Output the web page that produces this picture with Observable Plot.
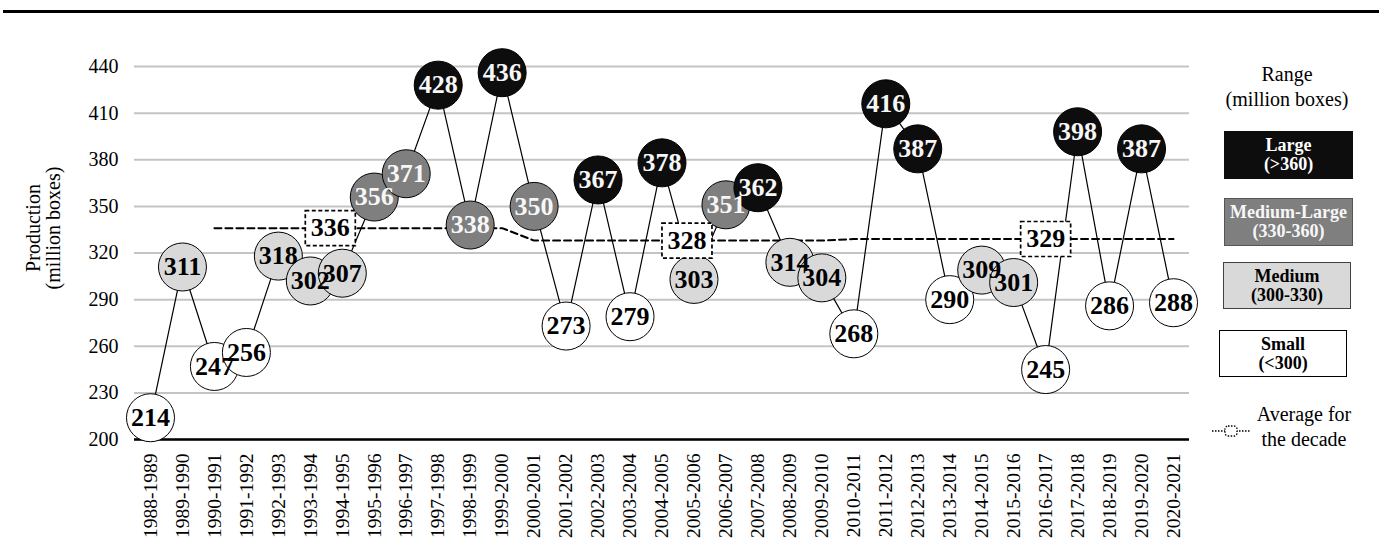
<!DOCTYPE html>
<html>
<head>
<meta charset="utf-8">
<script src="https://cdn.jsdelivr.net/npm/d3@7"></script>
<script src="https://cdn.jsdelivr.net/npm/@observablehq/plot@0.6"></script>
<style>
  html, body { margin: 0; padding: 0; background: #fff; }
  body { font-family: "Liberation Serif", "Times New Roman", serif; }
  #wrap { position: relative; width: 1379px; height: 543px; overflow: hidden; }
  #chart { position: absolute; left: 0; top: 0; }
  #topline { position: absolute; left: 3px; top: 10px; width: 1376px; height: 3px; background: #000; }
  .lg { position: absolute; text-align: center; font-family: "Liberation Serif", "Times New Roman", serif; }
  .box { position: absolute; box-sizing: border-box; display: flex; flex-direction: column; justify-content: center; align-items: center; font-weight: bold; font-size: 18px; line-height: 19px; }
</style>
</head>
<body>
<div id="wrap">
  <div id="chart"></div>
  <div id="topline"></div>
</div>
<script>
// ---- data ----
const categories = ["1988-1989","1989-1990","1990-1991","1991-1992","1992-1993","1993-1994","1994-1995","1995-1996","1996-1997","1997-1998","1998-1999","1999-2000","2000-2001","2001-2002","2002-2003","2003-2004","2004-2005","2005-2006","2006-2007","2007-2008","2008-2009","2009-2010","2010-2011","2011-2012","2012-2013","2013-2014","2014-2015","2015-2016","2016-2017","2017-2018","2018-2019","2019-2020","2020-2021"];
const production = [214,311,247,256,318,302,307,356,371,428,338,436,350,273,367,279,378,303,351,362,314,304,268,416,387,290,309,301,245,398,286,387,288];
const rangeClass = ["Small","Medium","Small","Small","Medium","Medium","Medium","Medium-Large","Medium-Large","Large","Medium-Large","Large","Medium-Large","Small","Large","Small","Large","Medium","Medium-Large","Large","Medium","Medium","Small","Large","Large","Small","Medium","Medium","Small","Large","Small","Large","Small"];
const avgCategories = ["1990-1991","1991-1992","1992-1993","1993-1994","1994-1995","1995-1996","1996-1997","1997-1998","1998-1999","1999-2000","2000-2001","2001-2002","2002-2003","2003-2004","2004-2005","2005-2006","2006-2007","2007-2008","2008-2009","2009-2010","2010-2011","2011-2012","2012-2013","2013-2014","2014-2015","2015-2016","2016-2017","2017-2018","2018-2019","2019-2020","2020-2021"];
const decadeAverage = [336,336,336,336,336,336,336,336,336,336,328,328,328,328,328,328,328,328,328,328,329,329,329,329,329,329,329,329,329,329,329];
const avgLabelCats = ["1994-1995","2005-2006","2016-2017"];
const avgLabelValues = [336,328,329];
const rangeNames = ["Large","Medium-Large","Medium","Small"];
const rangeLabels = ["(>360)","(330-360)","(300-330)","(<300)"];
const yTicks = [200,230,260,290,320,350,380,410,440];

// ---- styles ----
const rangeFills = ["#0d0d0d","#7f7f7f","#d9d9d9","#ffffff"];
const avgLabelShift = [-12, -7, 0];

const rows = categories.map((c, i) => ({cat: c, value: production[i], range: rangeClass[i]}));
const avgRows = avgCategories.map((c, i) => ({cat: c, value: decadeAverage[i]}));
const darkRows = rows.filter(d => d.range === "Large" || d.range === "Medium-Large");
const lightRows = rows.filter(d => d.range === "Medium" || d.range === "Small");

const boxSymbol = { draw(context) { context.rect(-25, -17.5, 50, 35); } };
const serif = "'Liberation Serif', 'Times New Roman', serif";

const boxMarks = avgLabelCats.map((c, i) =>
  Plot.dot([{cat: c, value: avgLabelValues[i]}], {x: "cat", y: "value", symbol: boxSymbol, r: 5, fill: "white", stroke: "black", strokeWidth: 1.7, strokeDasharray: "4,2.5", dx: avgLabelShift[i]})
);
const boxTextMarks = avgLabelCats.map((c, i) =>
  Plot.text([{cat: c, value: avgLabelValues[i]}], {x: "cat", y: "value", text: d => String(d.value), fontSize: 26, fontWeight: "bold", fontFamily: serif, fill: "black", dx: avgLabelShift[i]})
);

const chart = Plot.plot({
  width: 1379,
  height: 543,
  marginLeft: 134,
  marginRight: 190,
  marginTop: 66,
  marginBottom: 104,
  x: {type: "point", domain: categories, padding: 0.5},
  y: {domain: [200, 440]},
  color: {domain: rangeNames, range: rangeFills},
  style: {fontFamily: serif, fontSize: "20px", color: "black", background: "transparent"},
  marks: [
    Plot.gridY(yTicks, {stroke: "#c4c4c4", strokeOpacity: 1, strokeWidth: 2}),
    Plot.ruleY([200], {stroke: "black", strokeWidth: 2.5}),
    Plot.axisY(yTicks, {tickSize: 0, tickPadding: 16, fontSize: 20, fontFamily: serif, label: null}),
    Plot.axisX({tickRotate: -90, tickSize: 0, tickPadding: 14, fontSize: 19.5, fontFamily: serif, label: null}),
    Plot.text(["Production\n(million boxes)"], {frameAnchor: "left", dx: -91, dy: -25, rotate: -90, textAnchor: "middle", fontSize: 20, fontFamily: serif, lineHeight: 1}),
    Plot.line(rows, {x: "cat", y: "value", stroke: "black", strokeWidth: 1.2}),
    Plot.line(avgRows, {x: "cat", y: "value", stroke: "black", strokeWidth: 2, strokeDasharray: "7,4"}),
    Plot.dot(rows, {x: "cat", y: "value", r: 24, fill: "range", stroke: "black", strokeWidth: 1}),
    ...boxMarks,
    Plot.text(darkRows, {x: "cat", y: "value", text: d => String(d.value), fill: "#f7f7f7", fontWeight: "bold", fontSize: 26, fontFamily: serif}),
    Plot.text(lightRows, {x: "cat", y: "value", text: d => String(d.value), fill: "black", fontWeight: "bold", fontSize: 26, fontFamily: serif}),
    ...boxTextMarks
  ]
});
document.getElementById("chart").appendChild(chart);

// ---- legend (HTML) ----
const wrap = document.getElementById("wrap");
const title = document.createElement("div");
title.className = "lg";
title.style.cssText = "left:1212px; top:62px; width:150px; font-size:20px; line-height:25px;";
title.innerHTML = "Range<br>(million boxes)";
wrap.appendChild(title);

const boxGeom = [
  {left: 1224, top: 131, w: 129, h: 48, color: "#ffffff", border: "1px solid #0d0d0d"},
  {left: 1224, top: 198, w: 129, h: 48, color: "#f7f7f7", border: "1.5px solid #555"},
  {left: 1223, top: 262, w: 128, h: 47, color: "#000000", border: "1.5px solid #404040"},
  {left: 1219, top: 330, w: 128, h: 47, color: "#000000", border: "1.5px solid #000"}
];
rangeNames.forEach((n, i) => {
  const g = boxGeom[i];
  const b = document.createElement("div");
  b.className = "box lg";
  b.style.cssText += `left:${g.left}px; top:${g.top}px; width:${g.w}px; height:${g.h}px; background:${rangeFills[i]}; color:${g.color}; border:${g.border};`;
  b.innerHTML = `<div>${n}</div><div>${rangeLabels[i]}</div>`;
  wrap.appendChild(b);
});

const avgIcon = document.createElementNS("http://www.w3.org/2000/svg", "svg");
avgIcon.setAttribute("width", "40");
avgIcon.setAttribute("height", "14");
avgIcon.style.cssText = "position:absolute; left:1211px; top:424px;";
avgIcon.innerHTML = '<line x1="1" y1="7" x2="39" y2="7" stroke="#000" stroke-width="1.3" stroke-dasharray="1.5,1.5"/>' +
  '<rect x="14" y="2" width="12" height="10" rx="3" fill="#fff" stroke="#000" stroke-width="1.3" stroke-dasharray="1.5,1.5"/>';
wrap.appendChild(avgIcon);

const avgText = document.createElement("div");
avgText.className = "lg";
avgText.style.cssText = "left:1251px; top:402px; width:106px; font-size:20px; line-height:25px;";
avgText.innerHTML = "Average for<br>the decade";
wrap.appendChild(avgText);
</script>
</body>
</html>
